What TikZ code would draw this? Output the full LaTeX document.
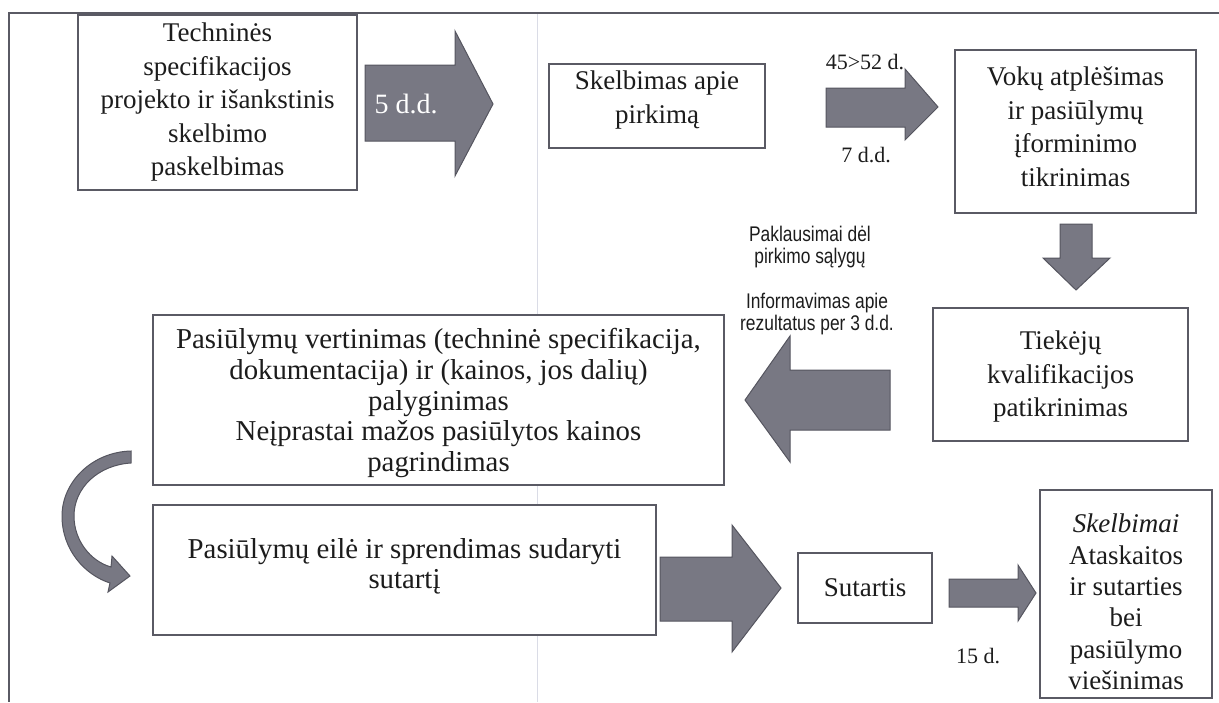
\documentclass[tikz,border=0pt]{standalone}
\usepackage{fontspec}
\setmainfont{Liberation Serif}
\newfontfamily\narrowsans[FakeStretch=0.82]{Liberation Sans}
\definecolor{boxline}{RGB}{90,90,100}
\definecolor{arrowfill}{RGB}{120,120,131}
\definecolor{arrowline}{RGB}{85,85,95}
\definecolor{ink}{RGB}{28,28,28}
\definecolor{scanline}{RGB}{218,220,230}
\begin{document}
\begin{tikzpicture}[x=0.5pt,y=-0.5pt,
  box/.style={draw=boxline, line width=0.75pt, fill=white, inner sep=0pt},
  btext/.style={inner sep=0pt, align=center, text=ink, font=\fontsize{13.5}{16.75}\selectfont},
  blk/.style={fill=arrowfill, draw=arrowline, line width=0.5pt, line join=miter},
  lbl/.style={inner sep=0pt, text=ink, font=\fontsize{11}{13}\selectfont},
  nlbl/.style={inner sep=0pt, text=ink, align=center, font=\narrowsans\fontsize{10.6}{11}\selectfont},
  frame/.style={draw=boxline, line width=0.8pt}]
\useasboundingbox (0,0) rectangle (1219,702);
% scan artefact and frame
\draw[scanline, line width=0.4pt] (537,13) -- (537,702);
\coordinate (ftl) at (9,13);
\coordinate (ftr) at (1219,13);
\coordinate (fbl) at (9,702);
\draw[frame] (ftr) -- (ftl) -- (fbl);

% boxes
\node[box, minimum width=139.5pt, minimum height=87.5pt] (b1) at (217.5,102.5) {};
\node[btext] (t1) at (b1.center)
  {Techninės\\specifikacijos\\projekto ir išankstinis\\skelbimo\\paskelbimas};
\node[box, minimum width=108pt, minimum height=42pt] (b2) at (657,106) {};
\node[btext] (t2) at ([yshift=3pt]b2.center) {Skelbimas apie\\pirkimą};
\node[box, minimum width=120.5pt, minimum height=81.5pt] (b3) at (1075.5,131.5) {};
\node[btext] (t3) at ([yshift=2.5pt]b3.center)
  {Vokų atplėšimas\\ir pasiūlymų\\įforminimo\\tikrinimas};
\node[box, minimum width=127.5pt, minimum height=66.5pt] (b4) at (1060.5,374.5) {};
\node[btext] (t4) at ([yshift=-1pt]b4.center) {Tiekėjų\\kvalifikacijos\\patikrinimas};
\node[box, minimum width=285.5pt, minimum height=85pt] (b5) at (438.5,400) {};
\node[btext, font=\fontsize{14.4}{15.3}\selectfont] (t5) at ([yshift=-1.5pt]b5.center)
  {Pasiūlymų vertinimas (techninė specifikacija,\\dokumentacija) ir (kainos, jos dalių)\\palyginimas\\Neįprastai mažos pasiūlytos kainos\\pagrindimas};
\node[box, minimum width=251.5pt, minimum height=65pt] (b6) at (404.5,570) {};
\node[btext, font=\fontsize{14.4}{15}\selectfont] (t6) at ([yshift=2pt]b6.center)
  {Pasiūlymų eilė ir sprendimas sudaryti\\sutartį};
\node[box, minimum width=67pt, minimum height=35pt] (b7) at (865,588) {};
\node[btext] (t7) at (b7.center) {Sutartis};
\node[box, minimum width=86pt, minimum height=104pt] (b8) at (1126,594) {};
\node[btext, font=\fontsize{13.5}{15.7}\selectfont] (t8) at ([yshift=-4pt]b8.center)
  {\textit{Skelbimai}\\Ataskaitos\\ir sutarties\\bei\\pasiūlymo\\viešinimas};

% block arrows
\draw[blk] (365,65) -- (455,65) -- (455,31) -- (493,104) -- (455,176) -- (455,141) -- (365,141) -- cycle;
\node[inner sep=0pt, text=white, font=\fontsize{14}{16}\selectfont] (a1t) at (406,104) {5 d.d.};
\draw[blk] (826,88) -- (905,88) -- (905,69) -- (938,107) -- (905,140) -- (905,127) -- (826,127) -- cycle;
\draw[blk] (1060,224) -- (1092,224) -- (1092,258) -- (1110,258) -- (1076,290) -- (1043,258) -- (1060,258) -- cycle;
\draw[blk] (890,370) -- (790,370) -- (790,336) -- (745,400) -- (790,462) -- (790,430) -- (890,430) -- cycle;
\draw[blk] (660,557) -- (732,557) -- (732,525) -- (781,588) -- (732,652) -- (732,621) -- (660,621) -- cycle;
\draw[blk] (949,579) -- (1018,579) -- (1018,565) -- (1036,593) -- (1018,621) -- (1018,607) -- (949,607) -- cycle;
% curved arrow
\draw[blk] (131,451) .. controls (92,452) and (62,482) .. (62,516)
  .. controls (62,550) and (85,575) .. (110,583) -- (108,592) -- (130,576) -- (112,556) -- (111,567)
  .. controls (90,561) and (74,540) .. (74,516) .. controls (74,488) and (98,465) .. (131,463) -- cycle;

% labels
\node[lbl] (l1) at (865,62) {45>52 d.};
\node[lbl] (l2) at (866,155) {7 d.d.};
\node[nlbl] (l3) at (810,247) {Paklausimai dėl\\pirkimo sąlygų};
\node[nlbl] (l4) at (817,314) {Informavimas apie\\rezultatus per 3 d.d.};
\node[lbl] (l5) at (978,656) {15 d.};
\end{tikzpicture}
\end{document}
